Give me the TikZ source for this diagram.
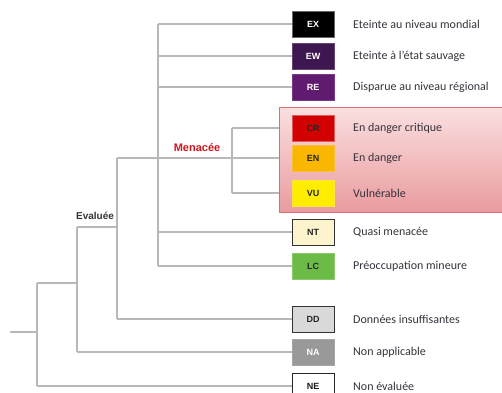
\documentclass[tikz,border=0pt]{standalone}
\usepackage{fontspec}
\setmainfont{Carlito}
\newfontfamily\codefont{Liberation Sans}
\begin{document}
\begin{tikzpicture}[x=1pt,y=-1pt,
  tree/.style={draw=black!28, line width=1.2pt},
  code/.style={minimum width=42pt, minimum height=26pt, inner sep=0pt, font=\codefont\bfseries\fontsize{9}{10}\selectfont, line width=1pt},
  lbl/.style={anchor=west, inner sep=0pt, text={rgb,255:red,55;green,50;blue,60}, font=\fontsize{12}{13}\selectfont}]
\useasboundingbox (0,0) rectangle (502,392);
\clip (0,0) rectangle (502,392);
% tree junctions
\coordinate (r0) at (10,332);
\coordinate (j1) at (37,332);
\coordinate (j2) at (77,283);
\coordinate (j3) at (117,227);
\coordinate (j4) at (158,158);
\coordinate (j5) at (232,158);
% boxes
\path
 (313,24)  node[code, fill=black, draw=black!60, text=white] (EX) {EX}
 (313,56)  node[code, fill={rgb,255:red,62;green,22;blue,80}, draw={rgb,255:red,100;green,70;blue,115}, text=white] (EW) {EW}
 (313,87)  node[code, fill={rgb,255:red,96;green,27;blue,112}, draw={rgb,255:red,120;green,60;blue,135}, text=white] (RE) {RE}
 (313,232) node[code, fill={rgb,255:red,253;green,244;blue,205}, draw=black!80, text=black!85] (NT) {NT}
 (313,266) node[code, fill={rgb,255:red,108;green,187;blue,71}, draw={rgb,255:red,140;green,200;blue,110}, text=black!85] (LC) {LC}
 (313,319) node[code, fill=black!15, draw=black!80, text=black!85] (DD) {DD}
 (313,352) node[code, fill=black!40, draw=black!35, text=white] (NA) {NA}
 (313,386) node[code, fill=white, draw=black!85, text=black!90] (NE) {NE};
% threatened panel
\node[draw={rgb,255:red,220;green,110;blue,115}, line width=1pt, inner sep=0pt,
  top color={rgb,255:red,251;green,223;blue,224}, bottom color={rgb,255:red,233;green,155;blue,158},
  minimum width=226pt, minimum height=105pt, anchor=north west] (panel) at (279,107) {};
\path
 (313,128) node[code, fill={rgb,255:red,210;green,0;blue,0}, draw={rgb,255:red,225;green,90;blue,90}, text=black!85] (CR) {CR}
 (313,158) node[code, fill={rgb,255:red,250;green,183;blue,0}, draw={rgb,255:red,250;green,190;blue,60}, text=black!85] (EN) {EN}
 (313,193) node[code, fill={rgb,255:red,255;green,237;blue,0}, draw={rgb,255:red,250;green,230;blue,60}, text=black!85] (VU) {VU};
% tree lines
\draw[tree] (r0) -- (j1);
\draw[tree] (j1 |- j2) -- (j1 |- NE.west);
\draw[tree] (j1 |- j2) -- (j2);
\draw[tree] (j1 |- NE.west) -- (NE.west);
\draw[tree] (j2 |- j3) -- (j2 |- NA.west);
\draw[tree] (j2 |- j3) -- (j3);
\draw[tree] (j2 |- NA.west) -- (NA.west);
\draw[tree] (j3 |- j4) -- (j3 |- DD.west);
\draw[tree] (j3 |- DD.west) -- (DD.west);
\draw[tree] (j3 |- j4) -- (j5);
\draw[tree] (j4 |- EX.west) -- (j4 |- LC.west);
\draw[tree] (j4 |- EX.west) -- (EX.west);
\draw[tree] (j4 |- EW.west) -- (EW.west);
\draw[tree] (j4 |- RE.west) -- (RE.west);
\draw[tree] (j4 |- NT.west) -- (NT.west);
\draw[tree] (j4 |- LC.west) -- (LC.west);
\draw[tree] (j5 |- CR.west) -- (j5 |- VU.west);
\draw[tree] (j5 |- CR.west) -- (panel.west |- CR.west);
\draw[tree] (j5) -- (panel.west |- EN.west);
\draw[tree] (j5 |- VU.west) -- (panel.west |- VU.west);
% group labels
\node[font=\codefont\bfseries\fontsize{11}{12}\selectfont, text={rgb,255:red,210;green,20;blue,30}, inner sep=0pt] (men) at (197,148) {Menacée};
\node[font=\codefont\bfseries\fontsize{10}{11}\selectfont, text=black!80, inner sep=0pt] (eva) at (95,216) {Evaluée};
% labels
\node[lbl] (tEX) at (353,24) {Eteinte au niveau mondial};
\node[lbl] (tEW) at (353,56) {Eteinte à l'état sauvage};
\node[lbl] (tRE) at (353,87) {Disparue au niveau régional};
\node[lbl] (tCR) at (353,128) {En danger critique};
\node[lbl] (tEN) at (353,158) {En danger};
\node[lbl] (tVU) at (353,193) {Vulnérable};
\node[lbl] (tNT) at (353,232) {Quasi menacée};
\node[lbl] (tLC) at (353,266) {Préoccupation mineure};
\node[lbl] (tDD) at (353,319) {Données insuffisantes};
\node[lbl] (tNA) at (353,352) {Non applicable};
\node[lbl] (tNE) at (353,386) {Non évaluée};
\end{tikzpicture}
\end{document}
